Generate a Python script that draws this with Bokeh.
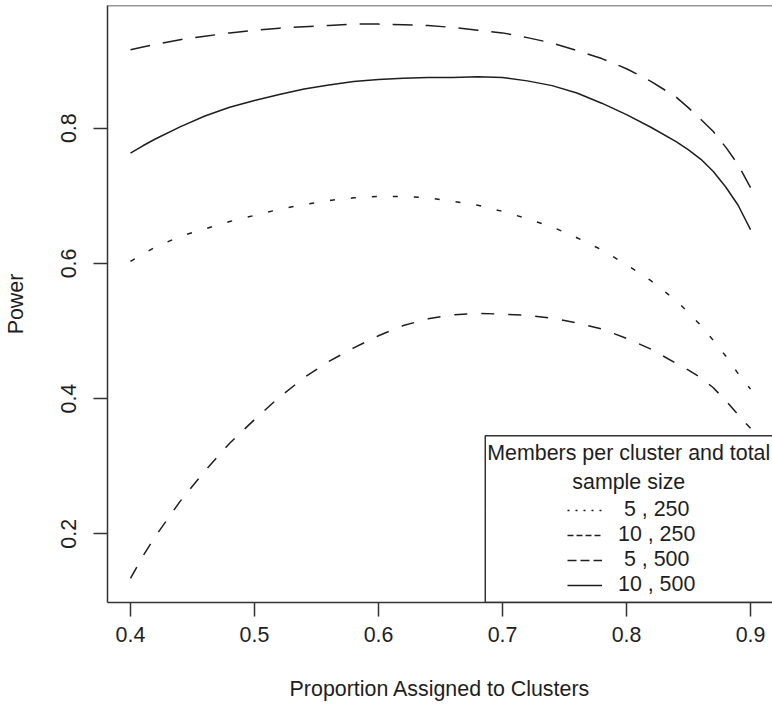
from bokeh.plotting import figure
from bokeh.models import (Range1d, FixedTicker, Span, BoxAnnotation, Label, Legend, LegendItem,
                          ColumnDataSource, CDSView, IndexFilter)
from bokeh.embed import file_html
from bokeh.resources import INLINE

# ---- data ----
proportion = [0.40, 0.41, 0.42, 0.44, 0.46, 0.48, 0.50, 0.52, 0.54, 0.56, 0.58, 0.60, 0.62, 0.64,
              0.66, 0.68, 0.70, 0.72, 0.74, 0.76, 0.78, 0.80, 0.82, 0.84, 0.85, 0.86, 0.87, 0.88,
              0.89, 0.90]
power_5_250 = [0.603, 0.614, 0.624, 0.640, 0.651, 0.662, 0.671, 0.680, 0.687, 0.693, 0.697, 0.699,
               0.699, 0.697, 0.692, 0.686, 0.677, 0.666, 0.654, 0.638, 0.620, 0.598, 0.574, 0.545,
               0.527, 0.508, 0.486, 0.463, 0.437, 0.414]
power_10_250 = [0.134, 0.167, 0.196, 0.248, 0.293, 0.334, 0.369, 0.402, 0.431, 0.455, 0.475, 0.493,
                0.508, 0.518, 0.524, 0.526, 0.525, 0.523, 0.519, 0.512, 0.503, 0.489, 0.473, 0.452,
                0.442, 0.431, 0.416, 0.397, 0.376, 0.356]
power_5_500 = [0.916, 0.920, 0.924, 0.931, 0.936, 0.941, 0.945, 0.948, 0.950, 0.952, 0.954, 0.954,
               0.953, 0.952, 0.949, 0.945, 0.941, 0.934, 0.926, 0.915, 0.903, 0.888, 0.869, 0.846,
               0.830, 0.813, 0.795, 0.772, 0.746, 0.712]
power_10_500 = [0.763, 0.774, 0.784, 0.802, 0.818, 0.831, 0.841, 0.850, 0.858, 0.864, 0.869, 0.872,
                0.874, 0.875, 0.875, 0.876, 0.875, 0.870, 0.863, 0.852, 0.837, 0.820, 0.801, 0.780,
                0.768, 0.754, 0.736, 0.713, 0.686, 0.650]
series_labels = ["5 , 250", "10 , 250", "5 , 500", "10 , 500"]
x_ticks = [0.4, 0.5, 0.6, 0.7, 0.8, 0.9]
y_ticks = [0.2, 0.4, 0.6, 0.8]
legend_title = ["Members per cluster and total", "sample size"]
x_label = "Proportion Assigned to Clusters"
y_label = "Power"

# ---- styling ----
FONT = "Liberation Sans"
FS = "21.4px"
INK = "#1e1e1e"
FRAME = "#333333"
X0, X1 = 0.38148, 0.91771
Y0, Y1 = 0.09837, 0.98151

p = figure(width=772, height=704, output_backend="svg", toolbar_location=None,
           x_range=Range1d(X0, X1), y_range=Range1d(Y0, Y1),
           min_border_left=106, min_border_right=0, min_border_top=5, min_border_bottom=102,
           x_axis_label=x_label, y_axis_label=y_label)
p.outline_line_color = None
p.xgrid.visible = False
p.ygrid.visible = False
p.background_fill_color = "white"
p.border_fill_color = "white"

for ax in (p.xaxis[0], p.yaxis[0]):
    ax.axis_line_color = FRAME
    ax.axis_line_width = 1.5
    ax.major_tick_line_color = FRAME
    ax.major_tick_line_width = 1.5
    ax.major_tick_out = 14
    ax.major_tick_in = 0
    ax.minor_tick_out = 0
    ax.minor_tick_in = 0
    ax.major_label_text_font = FONT
    ax.major_label_text_font_size = FS
    ax.major_label_text_color = INK
    ax.axis_label_text_font = FONT
    ax.axis_label_text_font_size = FS
    ax.axis_label_text_font_style = "normal"
    ax.axis_label_text_color = INK

p.xaxis.ticker = FixedTicker(ticks=x_ticks)
p.yaxis.ticker = FixedTicker(ticks=y_ticks)
p.yaxis.major_label_orientation = "vertical"
p.xaxis.major_label_standoff = 10
p.yaxis.major_label_standoff = 17
p.xaxis.axis_label_standoff = 32
p.yaxis.axis_label_standoff = 31

# top side of the box
p.add_layout(Span(location=Y1, dimension="width", line_color=FRAME, line_width=1.5))

# curves
curve_dashes = ["5 16", "13 14", "20 13", "solid"]
legend_dashes = ["2 6", "6 3", "9 4", "solid"]
series = [power_5_250, power_10_250, power_5_500, power_10_500]
items = []
for ys, d, ld, lbl in zip(series, curve_dashes, legend_dashes, series_labels):
    src = ColumnDataSource(data=dict(x=proportion, y=ys))
    p.line("x", "y", source=src, line_color=INK, line_width=1.5, line_dash=d)
    # a single-point view draws nothing in the plot; it only supplies the legend sample
    r = p.line("x", "y", source=src, view=CDSView(filter=IndexFilter(indices=[0])),
               line_color=INK, line_width=1.5, line_dash=ld)
    shown = ("\u00a0" + lbl) if len(lbl.split(" ")[0]) == 1 else lbl
    items.append(LegendItem(label=shown, renderers=[r]))

# legend frame and title
p.add_layout(BoxAnnotation(left=0.6861, top=0.345, right=0.95, fill_color=None, fill_alpha=0,
                           line_color=FRAME, line_width=1.5, line_alpha=1))
title_y = [0.3188, 0.2763]
for t, ty in zip(legend_title, title_y):
    p.add_layout(Label(x=0.8018, y=ty, text=t, text_align="center", text_baseline="middle",
                       text_font=FONT, text_font_size=FS, text_color=INK))

legend = Legend(items=items, location=(460, 5), orientation="vertical",
                border_line_color=None, background_fill_alpha=0, padding=0, margin=0,
                spacing=0, glyph_width=35, glyph_height=20, label_height=20,
                label_standoff=16, label_text_font=FONT, label_text_font_size=FS,
                label_text_color=INK)
p.add_layout(legend)

open("out.html", "w").write(file_html(p, INLINE))
